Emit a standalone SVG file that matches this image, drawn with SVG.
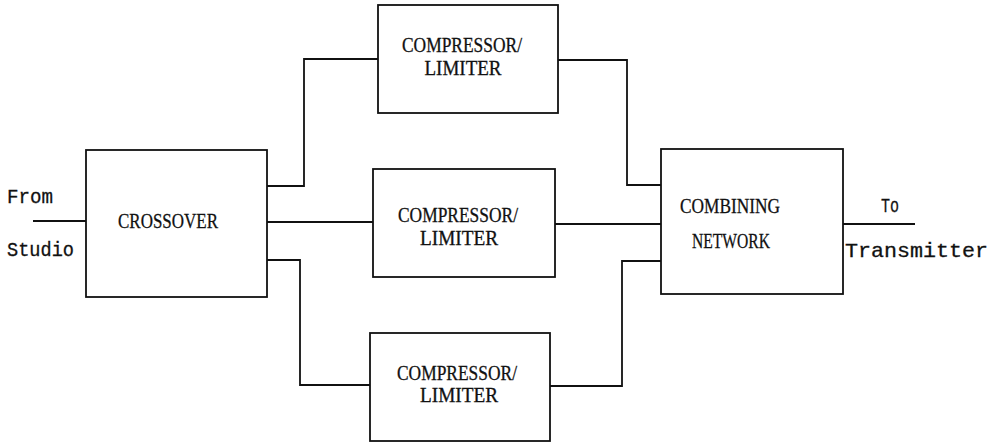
<svg xmlns="http://www.w3.org/2000/svg" width="1004" height="443" viewBox="0 0 1004 443">
<style>
.box{fill:#fff;stroke:#111;stroke-width:1.8}
.wire{fill:none;stroke:#111;stroke-width:1.8}
.lbl{font-family:"Liberation Serif",serif;font-size:20px;fill:#111;text-anchor:middle;stroke:#111;stroke-width:0.3}
.big{font-size:22px}
.mono{font-family:"Liberation Mono",monospace;font-size:21px;fill:#111;stroke:#111;stroke-width:0.3}
</style>
<rect width="1004" height="443" fill="#fff"/>
<g id="connectors">
<path class="wire" d="M33 221 H86"/>
<path class="wire" d="M267 186 H304 V59 H378"/>
<path class="wire" d="M267 222 H373"/>
<path class="wire" d="M267 260 H300 V385 H370"/>
<path class="wire" d="M558 60 H627 V185 H661"/>
<path class="wire" d="M555 224 H661"/>
<path class="wire" d="M550 386 H622 V261 H661"/>
<path class="wire" d="M843 224 H915"/>
</g>
<g id="from-studio">
<text class="mono" x="7" y="203" textLength="46" lengthAdjust="spacingAndGlyphs">From</text>
<text class="mono" x="7" y="256" textLength="67" lengthAdjust="spacingAndGlyphs">Studio</text>
</g>
<g id="crossover">
<rect class="box" x="86" y="150" width="181" height="147"/>
<text class="lbl big" x="168" y="228" textLength="100" lengthAdjust="spacingAndGlyphs">CROSSOVER</text>
</g>
<g id="comp1">
<rect class="box" x="378" y="5" width="180" height="108"/>
<text class="lbl" x="462" y="52" textLength="120" lengthAdjust="spacingAndGlyphs">COMPRESSOR/</text>
<text class="lbl" x="463" y="75" textLength="77" lengthAdjust="spacingAndGlyphs">LIMITER</text>
</g>
<g id="comp2">
<rect class="box" x="373" y="169" width="182" height="108"/>
<text class="lbl" x="458" y="222" textLength="120" lengthAdjust="spacingAndGlyphs">COMPRESSOR/</text>
<text class="lbl" x="459" y="245" textLength="78" lengthAdjust="spacingAndGlyphs">LIMITER</text>
</g>
<g id="comp3">
<rect class="box" x="370" y="333" width="180" height="108"/>
<text class="lbl" x="457" y="380" textLength="120" lengthAdjust="spacingAndGlyphs">COMPRESSOR/</text>
<text class="lbl" x="459" y="402" textLength="78" lengthAdjust="spacingAndGlyphs">LIMITER</text>
</g>
<g id="combining">
<rect class="box" x="661" y="149" width="182" height="145"/>
<text class="lbl big" x="730" y="213" textLength="100" lengthAdjust="spacingAndGlyphs">COMBINING</text>
<text class="lbl big" x="731" y="248" textLength="78" lengthAdjust="spacingAndGlyphs">NETWORK</text>
</g>
<g id="to-transmitter">
<text class="mono" x="881" y="212" textLength="18" lengthAdjust="spacingAndGlyphs">To</text>
<text class="mono" x="845" y="257" textLength="143" lengthAdjust="spacingAndGlyphs">Transmitter</text>
</g>
</svg>
